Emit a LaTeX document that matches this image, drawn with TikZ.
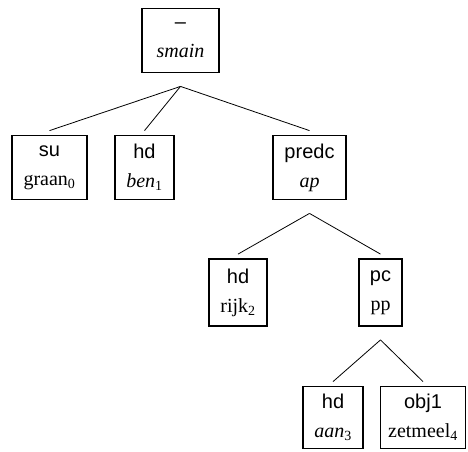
\documentclass[tikz,border=0pt]{standalone}
\usepackage{fontspec}
\setmainfont{Liberation Serif}
\setsansfont{Liberation Sans}
\begin{document}
\begin{tikzpicture}[x=1pt,y=-1pt,
  box/.style={draw,line width=1.8pt,minimum height=64pt,inner sep=0pt,align=center,
    font=\fontsize{20}{29}\selectfont},
  edge/.style={line width=0.8pt}]
\useasboundingbox (0,0) rectangle (468,451);
\node[box,minimum width=77pt] (smain) at (180.5,40.5) {\textsf{--}\\\textit{smain}};
\node[box,minimum width=75pt] (su) at (49.5,167.5) {\textsf{su}\\graan\textsubscript{0}};
\node[box,minimum width=59pt] (ben) at (144.5,167.5) {\textsf{hd}\\\textit{ben}\textsubscript{1}};
\node[box,minimum width=73pt] (predc) at (309.5,167.5) {\textsf{predc}\\\textit{ap}};
\node[box,minimum width=58pt,minimum height=67pt] (rijk) at (238,292.5) {\textsf{hd}\\rijk\textsubscript{2}};
\node[box,minimum width=43pt,minimum height=67pt] (pc) at (380.5,292.5) {\textsf{pc}\\pp};
\node[box,minimum width=60pt,minimum height=62pt] (aan) at (333,417.5) {\textsf{hd}\\\textit{aan}\textsubscript{3}};
\node[box,minimum width=85pt,minimum height=62pt] (obj) at (423,417.5) {\textsf{obj1}\\zetmeel\textsubscript{4}};
\foreach \p/\c in {smain/su,smain/ben,smain/predc,predc/rijk,predc/pc,pc/aan,pc/obj}
  \draw[edge] ([yshift=-13pt]\p.south) -- ([yshift=4pt]\c.north);
\end{tikzpicture}
\end{document}
